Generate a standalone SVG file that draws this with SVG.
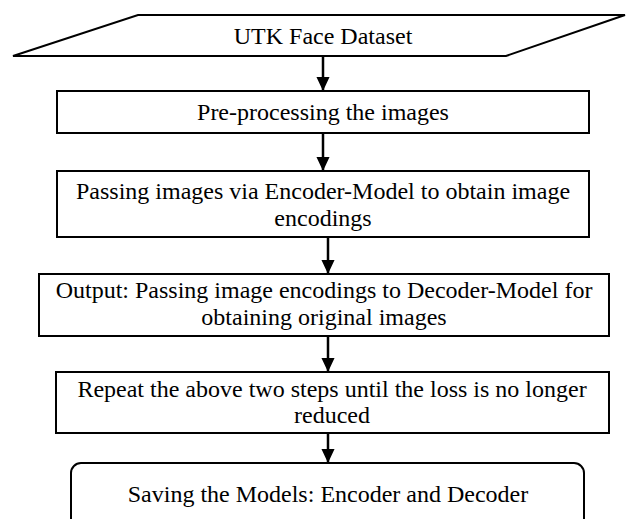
<svg xmlns="http://www.w3.org/2000/svg" width="626" height="519" viewBox="0 0 626 519">
<defs>
<style>
.s{fill:#fff;stroke:#000;stroke-width:2}
.t{font-family:"Liberation Serif","Times New Roman",serif;font-size:24px;fill:#000;text-anchor:middle}
.c{stroke:#000;stroke-width:2.5;fill:none;marker-end:url(#ah)}
</style>
<marker id="ah" markerWidth="14" markerHeight="16" refX="15" refY="7" orient="auto" markerUnits="userSpaceOnUse" viewBox="0 0 15 14">
<path d="M0,0 L15,7 L0,14 Z" fill="#000"/>
</marker>
</defs>
<rect width="626" height="519" fill="#fff"/>
<g id="n1">
<polygon class="s" points="138,15 625,15 506,56 13,56"/>
<text class="t" x="323" y="44">UTK Face Dataset</text>
</g>
<g id="n2">
<rect class="s" x="57" y="91" width="532" height="42"/>
<text class="t" x="323" y="120">Pre-processing the images</text>
</g>
<g id="n3">
<rect class="s" x="57" y="171" width="532" height="66"/>
<text class="t" x="323" y="199">Passing images via Encoder-Model to obtain image</text>
<text class="t" x="323" y="226">encodings</text>
</g>
<g id="n4">
<rect class="s" x="39" y="274" width="570" height="62"/>
<text class="t" x="324" y="298">Output: Passing image encodings to Decoder-Model for</text>
<text class="t" x="324" y="325">obtaining original images</text>
</g>
<g id="n5">
<rect class="s" x="56" y="372" width="553" height="61"/>
<text class="t" x="332" y="397">Repeat the above two steps until the loss is no longer</text>
<text class="t" x="332" y="423">reduced</text>
</g>
<g id="n6">
<rect class="s" x="71" y="463" width="513" height="70" rx="10" ry="10"/>
<text class="t" x="328" y="502">Saving the Models: Encoder and Decoder</text>
</g>
<g id="connectors">
<line class="c" x1="323" y1="56" x2="323" y2="91"/>
<line class="c" x1="323" y1="133" x2="323" y2="171"/>
<line class="c" x1="328" y1="237" x2="328" y2="274"/>
<line class="c" x1="328" y1="336" x2="328" y2="372"/>
<line class="c" x1="328" y1="433" x2="328" y2="463"/>
</g>
</svg>
